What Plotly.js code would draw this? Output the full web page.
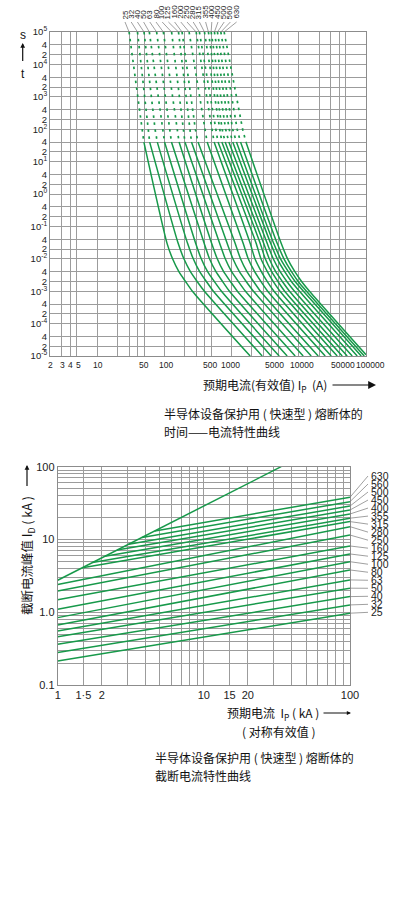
<!DOCTYPE html>
<html><head><meta charset="utf-8">
<script src="https://cdn.plot.ly/plotly-3.0.1.min.js"></script>
<style>html,body{margin:0;padding:0;background:#fff}#chart{width:396px;height:900px}</style>
</head><body><div id="chart"></div>
<script>
// ================= DATA : time-current characteristic (top chart) =================
const ratings = [25,32,40,50,63,80,100,125,160,200,250,280,315,355,400,450,500,560,630];
// dotted (long-time) part, currents (A) at t = 1e5 s, 100 s, 40 s
const dottedTimes = [1e5, 100, 40];
const iAt1e5 = [30,40,50,60,77,97,128.6,163,184,234,298,333,396,454,498,557,618,694,777];
const iAt100 = [46,56.5,73,94.4,119,154,189,236,290,396,506,575,655,726,818,922,1040,1213,1464];
const iAt40  = [49.8,60.7,78.8,101,128,166,203,254,318,434,551,630,718,804,913,1043,1184,1362,1639];
// solid part, currents (A) at the times below, then the end point
const solidTimes = [40, 0.03, 0.01, 0.004, 0.002, 0.001];
const iAt0p03  = [110,161,222,293,392,506,666,861,1132,1490,1894,2325,2668,3007,3390,3822,4236,4775,5477];
const iAt0p01  = [133,196,270,355,471,614,807,1050,1362,1774,2232,2742,3177,3643,4178,4792,5364,6029,6820];
const iAt0p004 = [165,245,336,441,587,764,1004,1312,1697,2209,2779,3414,3956,4536,5292,6175,7009,7795,8757];
const iAt0p002 = [207,308,422,555,736,961,1264,1651,2127,2733,3390,4165,4892,5706,6660,7769,8818,9806,11020];
const iAt0p001 = [262,396,538,709,932,1225,1612,2120,2695,3449,4280,5257,6175,7280,8641,10250,11760,13030,14440];
const iEnd = [1894,2857,3888,5115,6726,8850,11640,15310,19460,24740,30380,37320,44300,52570,62390,74040,84920,94110,100000];
const tEnd = [1e-5,1e-5,1e-5,1e-5,1e-5,1e-5,1e-5,1e-5,1e-5,1e-5,1e-5,1e-5,1e-5,1e-5,1e-5,1e-5,1e-5,1e-5,1.1e-5];

const xTickVals = [2,3,4,5,10,50,100,500,1000,5000,10000,50000,100000];
const xTickText = ['2','3','4','5','10','50','100','500','1000','5000','10000','50000','100000'];
const xTickShift = [0.7,0.9,0.5,2,1.3,0,1.5,-1,-1.4,-4,3,-2.5,4.6];
const xGridVals = [2,3,4,5,10,20,30,40,50,100,200,300,400,500,1000,2000,3000,4000,5000,10000,20000,30000,40000,50000,100000];
const yTickVals = [1e5,4e4,2e4,1e4,4e3,2e3,1e3,400,200,100,40,20,10,4,2,1,0.4,0.2,0.1,0.04,0.02,0.01,0.004,0.002,0.001,4e-4,2e-4,1e-4,4e-5,2e-5,1e-5];
const yTickText = ['10<sup>5</sup>','4','2','10<sup>4</sup>','4','2','10<sup>3</sup>','4','2','10<sup>2</sup>','4','2','10<sup>1</sup>','4','2','10<sup>0</sup>','4','2','10<sup>-1</sup>','4','2','10<sup>-2</sup>','4','2','10<sup>-3</sup>','4','2','10<sup>-4</sup>','4','2','10<sup>-5</sup>'];

// ================= DATA : cut-off current characteristic (bottom chart) =================
const ratingsB = [25,32,40,50,63,80,100,125,160,250,280,315,355,400,450,500,560,630];
const startI  = [1,1,1,1,1,1,1,1,1,1,1,1.48,1.73,2.11,2.55,3.06,3.77,4.62];
const startIp = [0.214,0.279,0.363,0.462,0.553,0.670,0.843,1.10,1.48,1.96,2.40,4.10,4.81,5.89,7.14,8.61,10.65,13.1];
const endI = 100;
const endIp   = [0.97,1.26,1.64,2.14,2.78,3.81,4.95,6.32,8.14,11.5,15.0,17.6,19.6,22.4,25.4,28.8,33.1,38.0];
const steepI  = [1, 33.8];
const steepIp = [2.75, 100];

const x2TickVals = [1,1.5,2,10,15,20,100];
const x2TickText = ['1','1·5','2','10','15','20','100'];
const x2MinorVals = [3,4,5,6,7,8,9,30,40,50,60,70,80,90];
const y2TickVals = [0.1,1,10,100];
const y2TickText = ['0.1','1.0','10','100'];
const y2MinorVals = [0.2,0.3,0.4,0.5,0.6,0.7,0.8,0.9,2,3,4,5,6,7,8,9,20,30,40,50,60,70,80,90];

// ================= LAYOUT GEOMETRY =================
const W = 396, H = 900;
const TOP = {left:50, right:366, top:32, bottom:356};
const BOT = {left:57.7, right:350, top:466.7, bottom:685};
const px = p => p / W, py = p => 1 - p / H;
function topPx(I){ const l0 = Math.log10(2); return TOP.left + (Math.log10(I) - l0) / (5 - l0) * (TOP.right - TOP.left); }
function botPy(v){ return BOT.top + (2 - Math.log10(v)) / 3 * (BOT.bottom - BOT.top); }

const green = '#17994a';
const gridColor = '#9c9c9c';
const lineColor = '#8c8c8c';
const numFamily = '"Liberation Sans",Arial,sans-serif';
const cjkFamily = '"Noto Sans CJK SC","Liberation Sans",sans-serif';

const traces = [];
ratings.forEach((r, k) => {
  traces.push({type:'scatter', mode:'lines', xaxis:'x', yaxis:'y', hoverinfo:'skip',
    x:[iAt1e5[k], iAt100[k], iAt40[k]], y:dottedTimes,
    line:{color:green, width:1.7, dash:'2.5px,4.5px'}});
  traces.push({type:'scatter', mode:'lines', xaxis:'x', yaxis:'y', hoverinfo:'skip',
    x:[iAt40[k], iAt0p03[k], iAt0p01[k], iAt0p004[k], iAt0p002[k], iAt0p001[k], iEnd[k]],
    y:[...solidTimes, tEnd[k]],
    line:{color:green, width:1.5, shape:'spline', smoothing:0.6}});
});
traces.push({type:'scatter', mode:'lines', xaxis:'x2', yaxis:'y2', hoverinfo:'skip',
  x:steepI, y:steepIp, line:{color:green, width:1.5}});
ratingsB.forEach((r, k) => {
  traces.push({type:'scatter', mode:'lines', xaxis:'x2', yaxis:'y2', hoverinfo:'skip',
    x:[startI[k], endI], y:[startIp[k], endIp[k]], line:{color:green, width:1.5}});
});

const annotations = [];
const shapes = [];
// top x tick labels (as text anchored to the axis values)
xTickVals.forEach((v, k) => {
  annotations.push({xref:'x', yref:'paper', x:Math.log10(v), y:py(364.5), xanchor:'center', yanchor:'middle',
    xshift:xTickShift[k], text:xTickText[k], showarrow:false, font:{family:numFamily, size:8.5, color:'#222'}});
});
// top curve labels (rotated) with leader lines
ratings.forEach((r, k) => {
  const lx = 125 + 6.2 * k;
  annotations.push({xref:'paper', yref:'paper', x:px(lx), y:py(21), xanchor:'center', yanchor:'bottom',
    text:String(r), textangle:-90, showarrow:false, font:{family:numFamily, size:8, color:'#222'}});
  shapes.push({type:'line', xref:'paper', yref:'paper', x0:px(topPx(iAt1e5[k])), y0:py(32), x1:px(lx), y1:py(22),
    line:{color:'#777', width:0.7}});
});
// bottom right labels with leader lines
ratingsB.forEach((r, k) => {
  const j = ratingsB.length - 1 - k;
  const ly = 476 + 8.02 * j;
  annotations.push({xref:'paper', yref:'paper', x:px(369), y:py(ly), xanchor:'left', yanchor:'middle',
    text:String(r), showarrow:false, font:{family:numFamily, size:10.5, color:'#222'}});
  shapes.push({type:'line', xref:'paper', yref:'paper', x0:px(350), y0:py(botPy(endIp[k])), x1:px(368), y1:py(ly),
    line:{color:'#777', width:0.7}});
});
function arrow(hx, hy, tx, ty, size){
  annotations.push({xref:'paper', yref:'paper', x:px(hx), y:py(hy), axref:'pixel', ayref:'pixel',
    ax:tx - hx, ay:ty - hy, text:' ', font:{size:1}, showarrow:true, arrowhead:2, arrowsize:size,
    arrowwidth:1.2, arrowcolor:'#111', standoff:0, startstandoff:0});
}
function label(x, y, text, opts){
  annotations.push(Object.assign({xref:'paper', yref:'paper', x:px(x), y:py(y), text:text, showarrow:false,
    xanchor:'left', yanchor:'middle', font:{family:cjkFamily, size:12, color:'#111'}}, opts || {}));
}
// top chart y label "s ↑ t"
label(22.7, 35, 's', {xanchor:'center', font:{family:'"Liberation Sans",sans-serif', size:12, color:'#111'}});
arrow(22.7, 43, 22.7, 63, 0.8);
label(22.7, 74, 't', {xanchor:'center', font:{family:'"Liberation Sans",sans-serif', size:12, color:'#111'}});
// top x title
label(329, 385, '预期电流(有效值) I<sub>P</sub>\u00a0\u00a0(A)', {xanchor:'right'});
arrow(376, 385, 331, 385, 1.3);
// top caption
label(161.7, 413, '半导体设备保护用 ( 快速型 ) 熔断体的');
label(161.7, 431, '时间——电流特性曲线');
// bottom y title
label(27, 556, '截断电流峰值 I<sub>D</sub> ( kA )', {xanchor:'center', textangle:-90, font:{family:cjkFamily, size:12.5, color:'#111'}});
arrow(27, 465, 27, 488, 0.8);
// bottom x title
label(321, 713, '预期电流\u00a0\u00a0I<sub>P</sub> ( kA )', {xanchor:'right'});
arrow(351, 713, 322, 713, 0.7);
label(279, 731, '( 对称有效值 )', {xanchor:'center'});
// bottom caption
label(153, 757, '半导体设备保护用 ( 快速型 ) 熔断体的');
label(153, 775, '截断电流特性曲线');

const axisCommon = {type:'log', tickmode:'array', ticks:'', showgrid:true, gridcolor:gridColor, gridwidth:1,
  showline:true, mirror:true, linecolor:lineColor, linewidth:1, zeroline:false, automargin:false,
  fixedrange:true, tickangle:0};

const layout = {
  width:W, height:H, margin:{l:0, r:0, t:0, b:0}, showlegend:false,
  paper_bgcolor:'#fff', plot_bgcolor:'#fff',
  xaxis:Object.assign({}, axisCommon, {domain:[px(TOP.left), px(TOP.right)], anchor:'y',
    range:[Math.log10(2), 5], tickvals:xGridVals, showticklabels:false}),
  yaxis:Object.assign({}, axisCommon, {domain:[py(TOP.bottom), py(TOP.top)], anchor:'x',
    range:[-5, 5], tickvals:yTickVals, ticktext:yTickText,
    tickfont:{family:numFamily, size:9.5, color:'#222'}}),
  xaxis2:Object.assign({}, axisCommon, {domain:[px(BOT.left), px(BOT.right)], anchor:'y2',
    range:[0, 2], tickvals:x2TickVals, ticktext:x2TickText,
    tickfont:{family:numFamily, size:11, color:'#222'},
    minor:{tickmode:'array', tickvals:x2MinorVals, showgrid:true, gridcolor:gridColor, gridwidth:1, ticks:''}}),
  yaxis2:Object.assign({}, axisCommon, {domain:[py(BOT.bottom), py(BOT.top)], anchor:'x2',
    range:[-1, 2], tickvals:y2TickVals, ticktext:y2TickText,
    tickfont:{family:numFamily, size:11, color:'#222'},
    minor:{tickmode:'array', tickvals:y2MinorVals, showgrid:true, gridcolor:gridColor, gridwidth:1, ticks:''}}),
  annotations:annotations, shapes:shapes
};
Plotly.newPlot('chart', traces, layout, {displayModeBar:false, staticPlot:true});
</script></body></html>
